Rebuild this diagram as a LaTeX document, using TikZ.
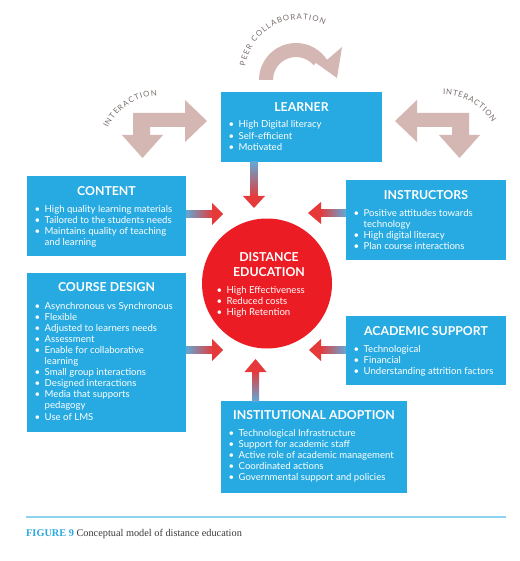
\documentclass[tikz,border=0pt]{standalone}
\usepackage{fontspec}
\setmainfont{Lato}
\newfontfamily\capfont{Liberation Serif}
\usetikzlibrary{decorations.text}
\definecolor{boxblue}{HTML}{27AAE1}
\definecolor{beige}{HTML}{D4B6B2}
\definecolor{dered}{HTML}{EC1C24}
\definecolor{arrred}{HTML}{E63A3A}
\definecolor{arrblue}{HTML}{62A8D6}
\definecolor{labgrey}{HTML}{7A6E6C}
\definecolor{rulecol}{HTML}{8DD3F0}
\definecolor{capblue}{HTML}{2AA9E0}
\definecolor{capgrey}{HTML}{3A3A3A}
\newcommand{\bl}{\makebox[10pt][l]{\textbullet}}
\newcommand{\ct}{\hspace*{10pt}}
\newcommand{\lstbox}[1]{\parbox[t]{185pt}{\raggedright\fontsize{9.6}{11.1}\selectfont #1}}
\newcommand{\labfont}{\fontsize{7.8}{8}\selectfont}
\begin{document}
\begin{tikzpicture}[x=1pt,y=-1pt,
  box/.style={fill=boxblue, draw=none, anchor=north west, inner sep=0},
  ttl/.style={font=\fontsize{12.3}{14}\selectfont\bfseries, text=white, inner sep=0, anchor=center},
  lst/.style={text=white, inner sep=0, anchor=base west},
  beigeshape/.style={fill=beige},
  labtext/.style={decorate, decoration={text along path, text align={fit to path}, text color=labgrey, text={|\labfont|#1}}}
]
\path[use as bounding box, fill=white] (0,0) rectangle (519,561);

% beige interaction arrows
\fill[beigeshape] (133,113) -- (185,113) -- (185,100) -- (207,121) -- (185,142) -- (185,127) -- (150,127) -- (150,135) -- (163,135) -- (142.5,158) -- (122,135) -- (133,135) -- cycle;
\fill[beigeshape] (469,113) -- (417,113) -- (417,100) -- (395,121) -- (417,142) -- (417,127) -- (452,127) -- (452,135) -- (439,135) -- (459.5,158) -- (480,135) -- (469,135) -- cycle;
% peer collaboration arrow
\fill[beigeshape] (259,80) arc[start angle=-180, end angle=-33, radius=37] -- (342,47) -- (337,78) -- (316,63) -- (313.6,65.2) arc[start angle=-40, end angle=-180, radius=23] -- cycle;

% curved labels
\path[labtext={INTERACTION}] (107.8,128.0) arc[start angle=-154, end angle=-92, radius=57];
\path[labtext={INTERACTION}] (443,95) arc[start angle=-90, end angle=-32, radius=58];
\path[labtext={PEER COLLABORATION}] (245.2,66.3) arc[start angle=-171, end angle=-64, radius=55.5];

% boxes
\node[box, minimum width=161pt, minimum height=70pt] (learner) at (221,92) {};
\node[box, minimum width=159pt, minimum height=80pt] (content) at (27,176) {};
\node[box, minimum width=159pt, minimum height=159pt] (course) at (27,273) {};
\node[box, minimum width=160pt, minimum height=80pt] (instr) at (346,180) {};
\node[box, minimum width=160pt, minimum height=69pt] (acad) at (346,316) {};
\node[box, minimum width=186pt, minimum height=92pt] (inst) at (221,401) {};
\node[circle, fill=dered, minimum size=130pt, inner sep=0] (de) at (267,283.5) {};

% gradient arrows
\shade[top color=arrblue, bottom color=arrred] (250.5,162) rectangle (257.5,197);
\fill[arrred] (243,196) -- (265,196) -- (254,208) -- cycle;
\shade[left color=arrblue, right color=arrred] (186,210.5) rectangle (213,217.5);
\fill[arrred] (212,203) -- (212,225) -- (223,214) -- cycle;
\shade[left color=arrblue, right color=arrred] (186,346.5) rectangle (213,353.5);
\fill[arrred] (212,339) -- (212,361) -- (223,350) -- cycle;
\shade[left color=arrred, right color=arrblue] (320,209.5) rectangle (346,216.5);
\fill[arrred] (321,202) -- (321,224) -- (308,213) -- cycle;
\shade[left color=arrred, right color=arrblue] (320,346.5) rectangle (346,353.5);
\fill[arrred] (321,339) -- (321,361) -- (309,350) -- cycle;
\shade[top color=arrred, bottom color=arrblue] (252,371) rectangle (259,401);
\fill[arrred] (244.5,372) -- (266.5,372) -- (255.5,359) -- cycle;

% titles
\node[ttl] (learnerT) at (301.5,107) {LEARNER};
\node[ttl] (contentT) at (106.5,191) {CONTENT};
\node[ttl] (courseT) at (106.5,287) {COURSE DESIGN};
\node[ttl] (instrT) at (426,195) {INSTRUCTORS};
\node[ttl] (acadT) at (426,331) {ACADEMIC SUPPORT};
\node[ttl] (instT) at (314,415) {INSTITUTIONAL ADOPTION};
\node[ttl, align=center, font=\fontsize{12.3}{15}\selectfont\bfseries] (deT) at (269,264.5) {DISTANCE\\EDUCATION};

% lists
\node[lst] (learnerL) at (228.5,128) {\lstbox{\bl High Digital literacy\\\bl Self-efficient\\\bl Motivated}};
\node[lst] (contentL) at (34.5,212) {\lstbox{\bl High quality learning materials\\\bl Tailored to the students needs\\\bl Maintains quality of teaching\\\ct and learning}};
\node[lst] (courseL) at (34.5,309) {\lstbox{\bl Asynchronous vs Synchronous\\\bl Flexible\\\bl Adjusted to learners needs\\\bl Assessment\\\bl Enable for collaborative\\\ct learning\\\bl Small group interactions\\\bl Designed interactions\\\bl Media that supports\\\ct pedagogy\\\bl Use of LMS}};
\node[lst] (instrL) at (353.5,216) {\lstbox{\bl Positive attitudes towards\\\ct technology\\\bl High digital literacy\\\bl Plan course interactions}};
\node[lst] (acadL) at (353.5,352) {\lstbox{\bl Technological\\\bl Financial\\\bl Understanding attrition factors}};
\node[lst] (instL) at (228.5,436) {\lstbox{\bl Technological Infrastructure\\\bl Support for academic staff\\\bl Active role of academic management\\\bl Coordinated actions\\\bl Governmental support and policies}};
\node[lst] (deL) at (216.5,293) {\lstbox{\bl High Effectiveness\\\bl Reduced costs\\\bl High Retention}};

% caption
\draw[rulecol, line width=1.6pt] (26,517) -- (506,517);
\node[anchor=base west, inner sep=0] (cap) at (26,536) {\capfont\fontsize{10.3}{12}\selectfont\textcolor{capblue}{\bfseries FIGURE 9} \textcolor{capgrey}{Conceptual model of distance education}};
\end{tikzpicture}
\end{document}
